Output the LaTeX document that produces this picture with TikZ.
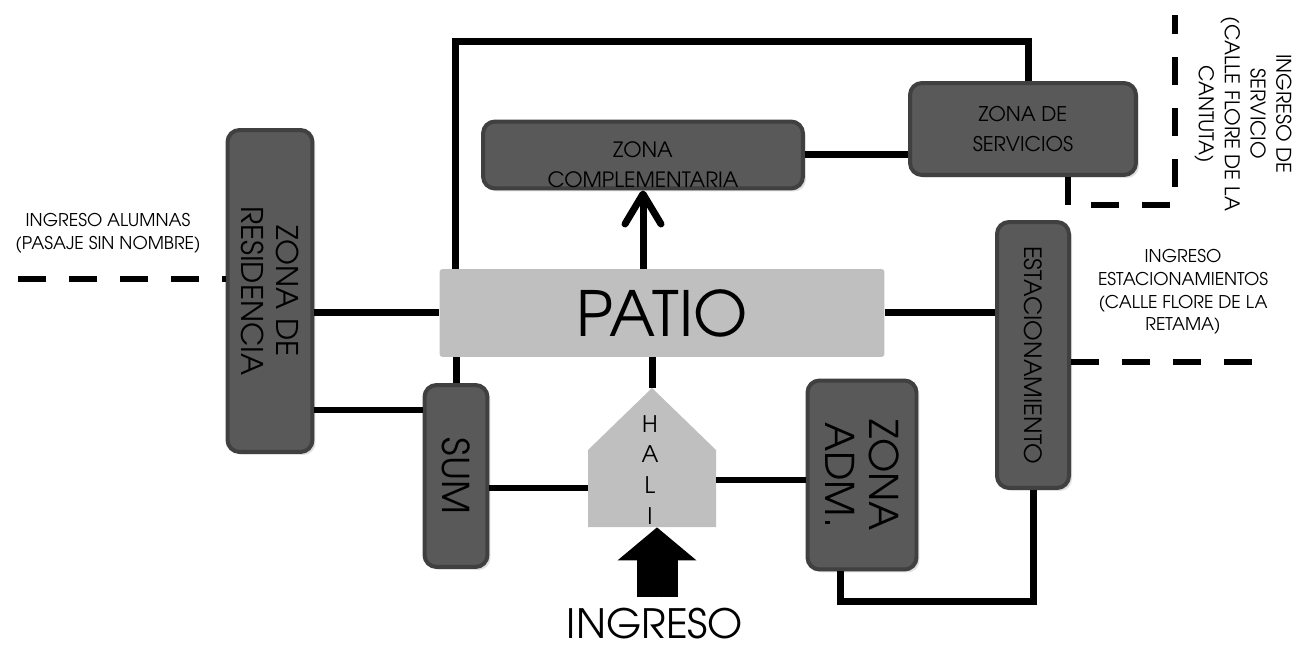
\documentclass[tikz,border=0pt]{standalone}
\usepackage{fontspec}
\setmainfont{TeX Gyre Adventor}
\usepackage{xcolor}
\usepackage{tikz}
\usetikzlibrary{arrows.meta,calc,positioning,shadows}

\definecolor{zonafill}{HTML}{595959}
\definecolor{zonaline}{HTML}{404040}
\definecolor{patiofill}{HTML}{BFBFBF}

\tikzset{
	zona/.style={draw=zonaline, fill=zonafill, line width=0.08cm, rounded corners=0.24cm, align=center, inner sep=0pt,
		drop shadow={opacity=0.25, shadow xshift=0.06cm, shadow yshift=-0.06cm}},
	enlace/.style={line width=0.14cm},
	acceso/.style={line width=0.13cm, dash pattern=on 0.56cm off 0.46cm},
	rotulo/.style={align=center, font=\fontsize{10}{13}\selectfont}
}

\begin{document}
\begin{tikzpicture} [x=0.02cm, y=-0.02cm]
		
		\useasboundingbox (0,0) rectangle (1305,648);
		
		\node (P) [fill=patiofill, rounded corners=0.06cm, minimum width=8.9cm, minimum height=1.76cm, font=\fontsize{35.5}{40}\selectfont] at (662,313) {PATIO};
		
		\node (Z_Comp) [zona, minimum width=6.4cm, minimum height=1.34cm, font=\fontsize{12}{17}\selectfont] at (643,155) {\rule{0pt}{0.7cm}ZONA\\COMPLEMENTARIA};
		
		\node (Z_Serv) [zona, minimum width=4.52cm, minimum height=1.84cm, font=\fontsize{11.5}{17}\selectfont] at (1023,129) {ZONA DE\\SERVICIOS};
		
		\node (Z_Res) [zona, rotate=-90, minimum width=6.44cm, minimum height=1.7cm, font=\fontsize{17}{20}\selectfont] at (270,291) {ZONA DE\\RESIDENCIA};
		
		\node (SUM) [zona, rotate=-90, minimum width=3.64cm, minimum height=1.26cm, font=\fontsize{21}{24}\selectfont] at (456,476) {SUM};
		
		\node (Z_Adm) [zona, rotate=-90, minimum width=3.78cm, minimum height=2.18cm, font=\fontsize{22.5}{25}\selectfont] at (862,475) {ZONA\\ADM.};
		
		\node (EST) [zona, rotate=-90, minimum width=5.32cm, minimum height=1.44cm, font=\fontsize{13.5}{16}\selectfont] at (1033,355) {ESTACIONAMIENTO};
		
		\fill [patiofill] (588,527) -- (716,527) -- (716,450) -- (652,388) -- (588,450) -- cycle;
		
		\node (HALL) [minimum width=2.56cm, minimum height=2.78cm, inner sep=0pt] at (652,457.5) {};
		
		\node (HALL_txt) [align=center, font=\fontsize{13}{17.6}\selectfont] at (650,470) {H\\A\\L\\I};
		
		\node (ING) [font=\fontsize{23}{28}\selectfont] at (655,624) {INGRESO};
		
		
		\coordinate (top_L) at (455,42);
		
		\coordinate (top_R) at (1028,42);
		
		\draw [enlace] (top_L |- P.north) -- (top_L) -- (top_R) -- (top_R |- Z_Serv.north);
		
		\draw [enlace, -{Straight Barb[round, length=0.6cm, width=0.72cm]}] (Z_Comp.south |- P.north) to (Z_Comp.south);
		
		\draw [enlace] (Z_Comp.east) to (Z_Comp.east -| Z_Serv.west);
		
		\draw [enlace] (Z_Res.north |- P.west) to (P.west);			% rotados: north = lado derecho
		
		\draw [enlace] ($(Z_Res.north)+(0,119)$) coordinate (rs) -- (rs -| SUM.south);
		
		\draw [enlace] (SUM.west) to (SUM.west |- P.south);
		
		\draw [enlace] ($(SUM.north)+(0,12)$) coordinate (sh) -- (sh -| HALL.west);
		
		\draw [enlace] (HALL.north) to (HALL.north |- P.south);
		
		\draw [enlace] ($(HALL.east)+(0,22.5)$) coordinate (ha) -- (ha -| Z_Adm.south);
		
		\draw [enlace] (P.east) to (P.east -| EST.south);
		
		\draw [enlace] ($(Z_Adm.east)+(-22,0)$) -- ++(0,30) coordinate (ae) -- (ae -| EST.east) -- (EST.east);
		
		\coordinate (entrada) at (657,597);
		
		\draw [line width=0.82cm, -{Triangle[length=0.66cm, width=1.54cm]}, drop shadow={opacity=0.3}] (entrada) to (entrada |- HALL.south);
		
		
		\coordinate (alumnas) at (18,279);
		
		\coordinate (retama) at (1262,362);
		
		\coordinate (cantuta) at (1175,15);
		
		\draw [acceso] (alumnas) to (alumnas -| Z_Res.south);
		
		\draw [acceso] (retama -| EST.north) to (retama);
		
		\draw [acceso] ($(Z_Serv.south)+(45,0)$) -- ++(0,28) coordinate (sv) -- (sv -| cantuta) -- (cantuta);
		
		\node (alumnas_txt) [rotulo] at (108,233) {INGRESO ALUMNAS\\(PASAJE SIN NOMBRE)};
		
		\node (retama_txt) [rotulo] at (1183,292) {INGRESO\\ESTACIONAMIENTOS\\(CALLE FLORE DE LA\\RETAMA)};
		
		\node (cantuta_txt) [rotulo, rotate=-90, font=\fontsize{11.5}{14.7}\selectfont] at (1243,114) {INGRESO DE\\SERVICIO\\(CALLE FLORE DE LA\\CANTUTA)};
		
\end{tikzpicture}
\end{document}
